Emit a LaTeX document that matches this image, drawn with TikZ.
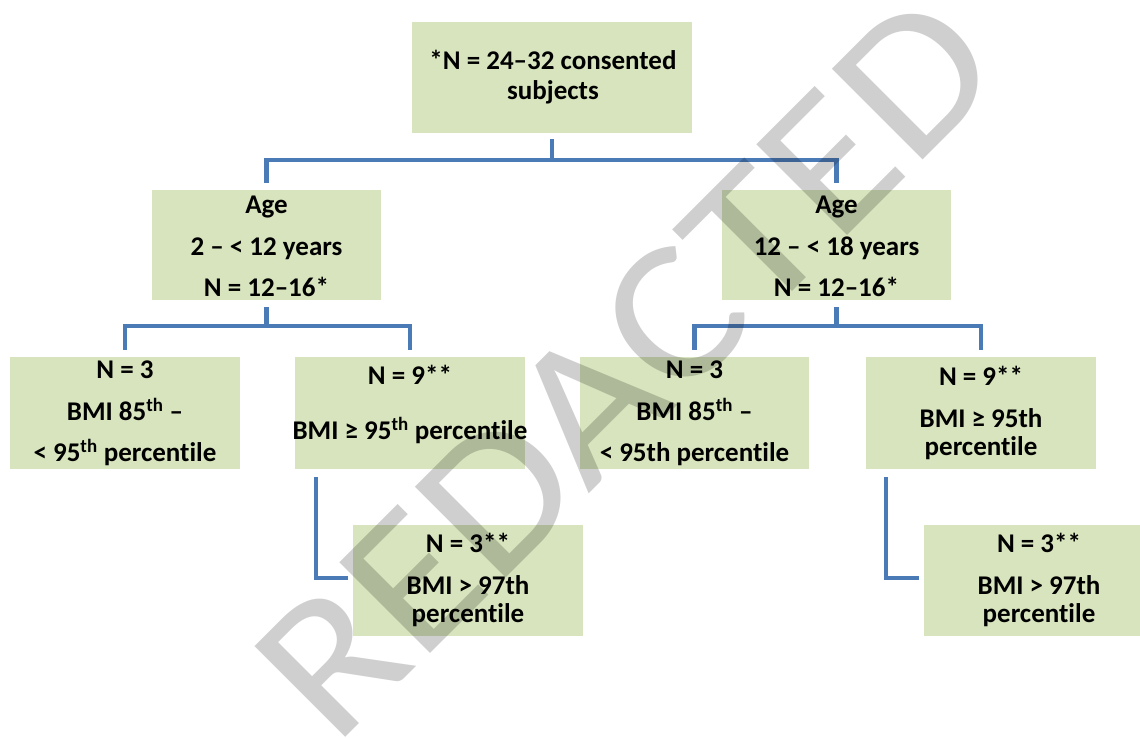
\documentclass[tikz,border=0pt]{standalone}
\usepackage{fontspec}
\setmainfont{Carlito}[Ligatures={NoCommon}]
\definecolor{boxfill}{HTML}{D7E4BD}
\definecolor{linec}{HTML}{4A7BB7}
\tikzset{
  box/.style={fill=boxfill, draw=none, inner sep=0pt, minimum width=230pt, minimum height=111pt},
  txt/.style={align=center, inner sep=0pt, font=\bfseries\fontsize{27}{30}\selectfont, text=black},
  conn/.style={draw=linec, line width=4.5pt, line join=miter},
  watermark/.style={inner sep=0pt, text depth=0pt, rotate=45, xscale=1.1, text=black, text opacity=0.19,
    font=\fontsize{200}{200}\selectfont}
}
\begin{document}
\begin{tikzpicture}[x=1pt,y=-1pt]
\fill[white] (0,0) rectangle (1140,737);
\useasboundingbox (0,0) rectangle (1140,737);
\clip (0,0) rectangle (1140,737);

% boxes
\node[box, minimum width=280pt] (top) at (552,77.5) {};
\node[box, minimum width=229pt, minimum height=110pt] (ageL) at (266.5,245) {};
\node[box, minimum width=229pt, minimum height=110pt] (ageR) at (836.5,245) {};
\node[box, minimum height=112pt] (l1) at (125,413) {};
\node[box, minimum height=112pt] (l2) at (410,413) {};
\node[box, minimum width=229pt, minimum height=112pt] (r1) at (694.5,413) {};
\node[box, minimum height=112pt] (r2) at (981,413) {};
\node[box] (l3) at (468,580.5) {};
\node[box] (r3) at (1039,580.5) {};

% texts
\node[txt] (topt) at (553,77) {*N = 24–32 consented\\[0pt]subjects};
\node[txt] (ageLt) at (266.5,246.5) {Age\\[11.5pt]2 – < 12 years\\[11.5pt]N = 12–16*};
\node[txt] (ageRt) at (836.5,246.5) {Age\\[11.5pt]12 – < 18 years\\[11.5pt]N = 12–16*};
\node[txt] (l1t) at (125,413.5) {N = 3\\[11.5pt]BMI 85\textsuperscript{th} –\\[11.5pt]< 95\textsuperscript{th} percentile};
\node[txt] (l2t) at (410,404.5) {N = 9**\\[25pt]BMI ≥ 95\textsuperscript{th} percentile};
\node[txt] (r1t) at (694.5,413.5) {N = 3\\[11.5pt]BMI 85\textsuperscript{th} –\\[11.5pt]< 95th percentile};
\node[txt] (r2t) at (981,413) {N = 9**\\[12pt]BMI ≥ 95th\\[-2pt]percentile};
\node[txt] (l3t) at (468,580) {N = 3**\\[12pt]BMI > 97th\\[-2pt]percentile};
\node[txt] (r3t) at (1039,580) {N = 3**\\[12pt]BMI > 97th\\[-2pt]percentile};

% connectors
\draw[conn] ([yshift=-6pt]top.south) -- ++(0,21) coordinate (f0);
\draw[conn] (ageL.north) ++(0,-7) |- (f0) -| ([yshift=7pt]ageR.north);
\draw[conn] ([yshift=-7pt]ageL.south) -- ++(0,19) coordinate (f1);
\draw[conn] (l1.north) ++(0,-7) |- (f1) -| ([yshift=7pt]l2.north);
\draw[conn] ([yshift=-7pt]ageR.south) -- ++(0,19) coordinate (f2);
\draw[conn] (r1.north) ++(0,-7) |- (f2) -| ([yshift=7pt]r2.north);
\draw[conn] ([xshift=-94pt,yshift=-8pt]l2.south) |- ([xshift=-5pt,yshift=2.5pt]l3.west);
\draw[conn] ([xshift=-95pt,yshift=-8pt]r2.south) |- ([xshift=-5pt,yshift=2.5pt]r3.west);

% watermark
\node[watermark] (wm) at (626,366) {REDACTED};
\end{tikzpicture}
\end{document}
